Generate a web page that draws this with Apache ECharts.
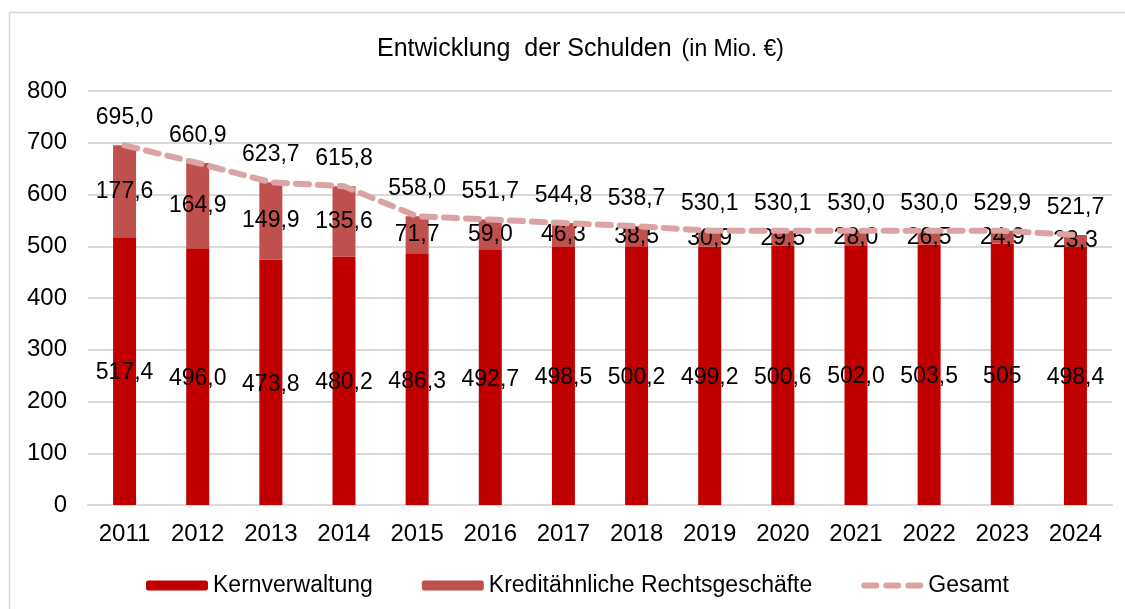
<!DOCTYPE html>
<html>
<head>
<meta charset="utf-8">
<script src="https://cdn.jsdelivr.net/npm/echarts@6/dist/echarts.min.js"></script>
<style>
  html, body { margin: 0; padding: 0; background: #fff; }
  #chart { width: 1125px; height: 609px; }
</style>
</head>
<body>
<div id="chart"></div>
<script>
const years = ['2011', '2012', '2013', '2014', '2015', '2016', '2017', '2018', '2019', '2020', '2021', '2022', '2023', '2024']
const kernverwaltung = [517.4, 496.0, 473.8, 480.2, 486.3, 492.7, 498.5, 500.2, 499.2, 500.6, 502.0, 503.5, 505, 498.4]
const kreditaehnlich = [177.6, 164.9, 149.9, 135.6, 71.7, 59.0, 46.3, 38.5, 30.9, 29.5, 28.0, 26.5, 24.9, 23.3]
const gesamt = [695.0, 660.9, 623.7, 615.8, 558.0, 551.7, 544.8, 538.7, 530.1, 530.1, 530.0, 530.0, 529.9, 521.7]
const yTicks = [0, 100, 200, 300, 400, 500, 600, 700, 800]

const fmt = v => v.toFixed(1).replace('.', ',')
const font = 'Liberation Sans, Arial, sans-serif'
const gesamtColor = '#dba3a3'
// drei abgerundete Striche als Legendensymbol
const dashIcon = 'path://M3,0h12a3,3 0 0 1 0,6h-12a3,3 0 0 1 0,-6z' +
    'M25,0h12a3,3 0 0 1 0,6h-12a3,3 0 0 1 0,-6z' +
    'M47,0h12a3,3 0 0 1 0,6h-12a3,3 0 0 1 0,-6z'

let charts = echarts.init(document.getElementById('chart'))
charts.setOption({
    textStyle: { fontFamily: font },
    title: {
        text: '{a|Entwicklung  der Schulden}  {b|(in Mio. €)}',
        left: 372,
        top: 32,
        textStyle: {
            fontWeight: 'normal',
            rich: {
                a: { fontSize: 25, color: '#000', fontFamily: font, fontWeight: 'normal' },
                b: { fontSize: 23, color: '#000', fontFamily: font, fontWeight: 'normal' }
            }
        }
    },
    legend: {
        left: 141,
        top: 569,
        itemWidth: 62,
        itemHeight: 10,
        itemGap: 49,
        textStyle: { fontSize: 23, color: '#000', fontFamily: font },
        data: [
            'Kernverwaltung',
            'Kreditähnliche Rechtsgeschäfte',
            { name: 'Gesamt', icon: dashIcon, itemStyle: { color: gesamtColor } }
        ]
    },
    grid: {
        left: 88,
        right: 13,
        top: 91,
        bottom: 104
    },
    xAxis: {
        type: 'category',
        data: years,
        axisLine: { lineStyle: { color: '#d9d9d9', width: 2 } },
        axisTick: { show: false },
        axisLabel: { fontSize: 24, color: '#000', margin: 17 }
    },
    yAxis: {
        type: 'value',
        min: yTicks[0],
        max: yTicks[yTicks.length - 1],
        interval: 100,
        axisLine: { show: false },
        axisTick: { show: false },
        axisLabel: { fontSize: 24, color: '#000', margin: 21 },
        splitLine: { lineStyle: { color: '#d9d9d9', width: 2 } }
    },
    series: [
        {
            name: 'Kernverwaltung',
            type: 'bar',
            stack: 'schulden',
            barWidth: 23,
            itemStyle: { color: '#c00000' },
            label: {
                show: true,
                position: 'inside',
                offset: [0, 2],
                fontSize: 23,
                color: '#000',
                formatter: p => p.value === 505 ? '505' : fmt(p.value)
            },
            data: kernverwaltung
        },
        {
            name: 'Kreditähnliche Rechtsgeschäfte',
            type: 'bar',
            stack: 'schulden',
            barWidth: 23,
            itemStyle: { color: '#c0504d' },
            label: {
                show: true,
                position: 'inside',
                fontSize: 23,
                color: '#000',
                formatter: p => fmt(p.value)
            },
            data: kreditaehnlich
        },
        {
            name: 'Gesamt',
            type: 'line',
            symbol: 'circle',
            symbolSize: 0,
            z: 3,
            lineStyle: { color: gesamtColor, width: 6, type: [13, 9], cap: 'round' },
            itemStyle: { color: gesamtColor },
            label: {
                show: true,
                position: 'top',
                distance: 16,
                fontSize: 23,
                color: '#000',
                formatter: p => fmt(p.value)
            },
            data: gesamt
        }
    ],
    graphic: [{
        type: 'rect',
        shape: { x: 9.5, y: 12.5, width: 1140, height: 620 },
        style: { fill: 'none', stroke: '#d9d9d9', lineWidth: 1.5 },
        silent: true
    }]
})
window.addEventListener('resize', () => {
    charts.resize()
})
</script>
</body>
</html>
